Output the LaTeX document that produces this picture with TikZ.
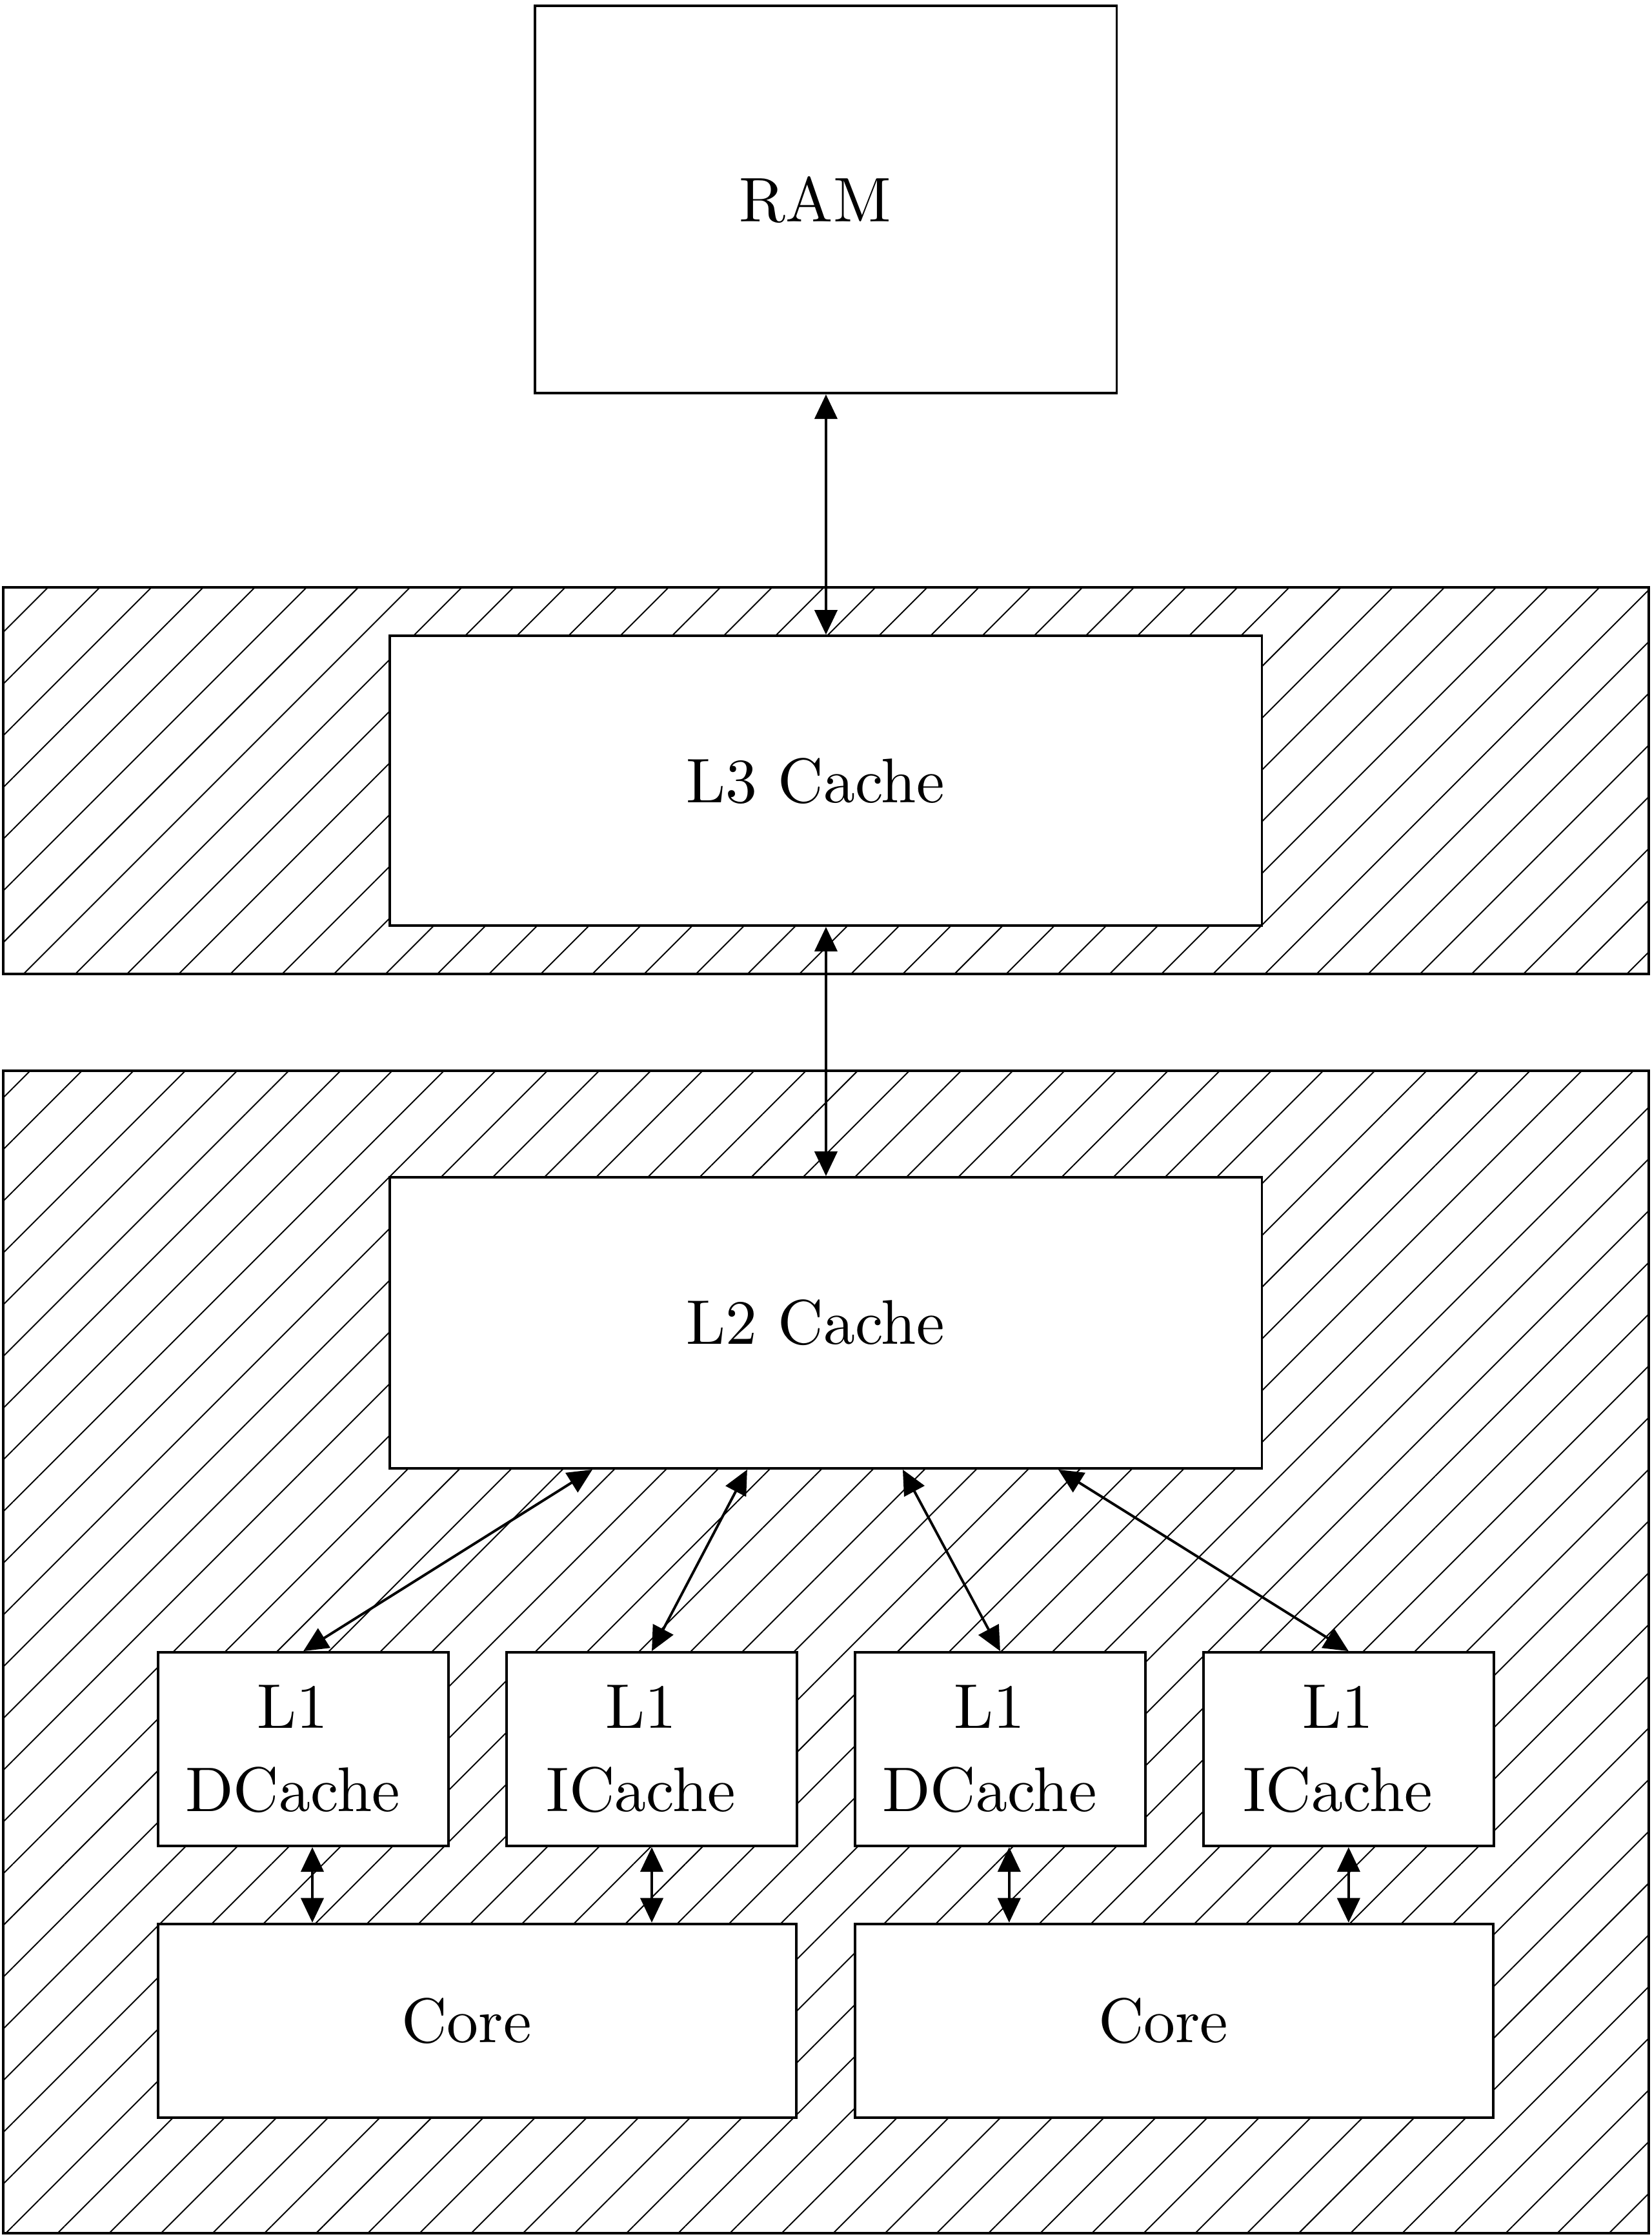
\documentclass[tikz,border=0pt]{standalone}
\usetikzlibrary{arrows.meta,positioning,patterns.meta}

\begin{document}
\begin{tikzpicture}[>={Triangle[length=3.9pt,width=3.6pt]},
  blk/.style={draw,fill=white,inner sep=0pt},
  txt/.style={xshift=-0.06cm,align=center,inner sep=0pt},
  lone/.style={blk,minimum width=1.619cm,minimum height=1.079cm},
  corebox/.style={blk,minimum width=3.558cm,minimum height=1.079cm},
  shared/.style={draw,pattern={Lines[angle=45,distance=5.8pt,line width=0.2pt]}}]
  \useasboundingbox (0,0) rectangle (9.205,-12.478);
  % shared levels (hatched)
  \draw[shared] (0.018,-3.273) rectangle (9.191,-5.428);
  \draw[shared] (0.018,-5.968) rectangle (9.191,-12.446);
  \node[blk,minimum width=3.241cm,minimum height=2.158cm,label={[txt]center:RAM}] (RAM) at (4.604,-1.112) {};
  \node[blk,minimum width=4.86cm,minimum height=1.615cm,label={[txt]center:L3 Cache}] (L3) at (4.604,-4.351) {};
  \node[blk,minimum width=4.86cm,minimum height=1.622cm,label={[txt]center:L2 Cache}] (L2) at (4.604,-7.372) {};
  % private L1 caches and cores
  \tikzset{every label/.append style={font=\fontsize{10}{13.2}\selectfont}}
  \node[lone,label={[txt]center:{L1\\DCache}}] (D1) at (1.691,-9.748) {};
  \node[lone,right=0.309cm of D1,label={[txt]center:{L1\\ICache}}] (I1) {};
  \node[lone,right=0.309cm of I1,label={[txt]center:{L1\\DCache}}] (D2) {};
  \node[lone,right=0.309cm of D2,label={[txt]center:{L1\\ICache}}] (I2) {};
  \node[corebox,below=0.42cm of D1.south west,anchor=north west,label={[txt]center:Core}] (C1) {};
  \node[corebox,below=0.42cm of D2.south west,anchor=north west,label={[txt]center:Core}] (C2) {};
  \draw[<->] (RAM.south) -- (L3.north);
  \draw[<->] (L3.south) -- (L2.north);
  \draw[<->] ([xshift=-1.302cm]L2.south) -- (D1.north);
  \draw[<->] ([xshift=-0.439cm]L2.south) -- (I1.north);
  \draw[<->] ([xshift=0.428cm]L2.south) -- (D2.north);
  \draw[<->] ([xshift=1.295cm]L2.south) -- (I2.north);
  \foreach \a/\c/\s in {D1/C1/0.05,I1/C1/0,D2/C2/0.05,I2/C2/0}
    \draw[<->] ([xshift=\s cm]\a.south) -- ([xshift=\s cm]\a.south |- \c.north);
\end{tikzpicture}
\end{document}
